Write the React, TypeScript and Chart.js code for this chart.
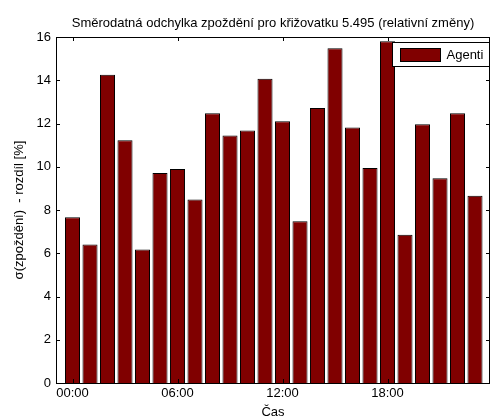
import React, { useEffect, useRef } from "react";
import { Chart, registerables } from "chart.js";

Chart.register(...registerables);

const TITLE = "Směrodatná odchylka zpoždění pro křižovatku 5.495 (relativní změny)";
const X_TITLE = "Čas";
const Y_TITLE = "σ(zpoždění)  - rozdíl [%]";
const SERIES_LABEL = "Agenti";

const hours = [0, 1, 2, 3, 4, 5, 6, 7, 8, 9, 10, 11, 12, 13, 14, 15, 16, 17, 18, 19, 20, 21, 22, 23];
const values = [
  7.66, 6.4, 14.26, 11.22, 6.17, 9.71, 9.9, 8.49, 12.47, 11.45, 11.68, 14.07,
  12.1, 7.48, 12.72, 15.48, 11.82, 9.94, 15.8, 6.86, 11.96, 9.47, 12.47, 8.66,
];
const xTickValues = [0, 6, 12, 18];
const xTickLabels = ["00:00", "06:00", "12:00", "18:00"];
const yTickValues = [0, 2, 4, 6, 8, 10, 12, 14, 16];

const FONT = '"Liberation Sans", Arial, sans-serif';
const BAR_COLOR = "#800000";

const decorPlugin = {
  id: "matlabDecor",
  afterDraw(chart: any) {
    const { ctx, chartArea } = chart;
    const { left, right, top, bottom } = chartArea;
    const xs = chart.scales.x;
    const ys = chart.scales.y;
    ctx.save();
    ctx.strokeStyle = "#000";
    ctx.lineWidth = 1;
    // frame
    ctx.strokeRect(Math.round(left) + 0.5, Math.round(top) + 0.5, Math.round(right - left) - 1, Math.round(bottom - top));
    // inward ticks
    const tl = 4;
    ctx.beginPath();
    xTickValues.forEach((v) => {
      const px = Math.round(xs.getPixelForValue(v)) + 0.5;
      ctx.moveTo(px, bottom);
      ctx.lineTo(px, bottom - tl);
      ctx.moveTo(px, top);
      ctx.lineTo(px, top + tl);
    });
    yTickValues.forEach((v) => {
      const py = Math.round(ys.getPixelForValue(v)) + 0.5;
      ctx.moveTo(left, py);
      ctx.lineTo(left + tl, py);
      ctx.moveTo(right, py);
      ctx.lineTo(right - tl, py);
    });
    ctx.stroke();

    // title
    ctx.fillStyle = "#000";
    ctx.font = `13px ${FONT}`;
    ctx.textAlign = "center";
    ctx.textBaseline = "middle";
    ctx.fillText(TITLE, (left + right) / 2, 23);
    // x title
    ctx.fillText(X_TITLE, (left + right) / 2, 412);
    // y title
    ctx.save();
    ctx.translate(19, (top + bottom) / 2);
    ctx.rotate(-Math.PI / 2);
    ctx.fillText(Y_TITLE, 0, 0);
    ctx.restore();

    // legend
    const lw = 97;
    const lh = 24;
    const lx = Math.round(right) - lw - 0.5;
    const ly = Math.round(top) + 5.5;
    ctx.fillStyle = "#fff";
    ctx.fillRect(lx, ly, lw, lh);
    ctx.strokeRect(lx, ly, lw, lh);
    ctx.fillStyle = BAR_COLOR;
    ctx.fillRect(lx + 8, ly + 6, 40, 13);
    ctx.strokeRect(lx + 8, ly + 6, 40, 13);
    ctx.fillStyle = "#000";
    ctx.textAlign = "left";
    ctx.fillText(SERIES_LABEL, lx + 54, ly + lh / 2 + 0.5);
    ctx.restore();
  },
};

export default function App() {
  const ref = useRef<HTMLCanvasElement | null>(null);
  useEffect(() => {
    if (!ref.current) return;
    const chart = new Chart(ref.current, {
      type: "bar",
      data: {
        datasets: [
          {
            label: SERIES_LABEL,
            data: hours.map((h, i) => ({ x: h, y: values[i] })),
            backgroundColor: BAR_COLOR,
            borderColor: "#000",
            borderWidth: 1,
            barPercentage: 1,
            categoryPercentage: 0.86,
          },
        ],
      },
      options: {
        responsive: false,
        animation: false,
        layout: { padding: { top: 37, left: 0, right: 1, bottom: 0 } },
        plugins: { legend: { display: false }, tooltip: { enabled: false }, title: { display: false } },
        scales: {
          x: {
            type: "linear",
            offset: false,
            min: -0.943,
            max: 23.857,
            grid: { display: false, drawTicks: false },
            border: { display: false },
            afterBuildTicks: (s: any) => {
              s.ticks = xTickValues.map((v) => ({ value: v }));
            },
            afterFit: (s: any) => {
              s.height = 36;
            },
            ticks: {
              autoSkip: false,
              maxRotation: 0,
              padding: 3,
              color: "#000",
              font: { family: FONT, size: 13 },
              callback: (v: any) => {
                const i = xTickValues.indexOf(Number(v));
                return i >= 0 ? xTickLabels[i] : "";
              },
            },
          },
          y: {
            min: 0,
            max: 16,
            grid: { display: false, drawTicks: false },
            border: { display: false },
            afterBuildTicks: (s: any) => {
              s.ticks = yTickValues.map((v) => ({ value: v }));
            },
            afterFit: (s: any) => {
              s.width = 56;
            },
            ticks: {
              padding: 5,
              color: "#000",
              font: { family: FONT, size: 13 },
            },
          },
        },
      },
      plugins: [decorPlugin],
    });
    return () => chart.destroy();
  }, []);
  return (
    <div style={{ position: "fixed", left: 0, top: 0, width: 491, height: 419, background: "#fff" }}>
      <canvas ref={ref} width={491} height={419} style={{ display: "block" }} />
    </div>
  );
}
